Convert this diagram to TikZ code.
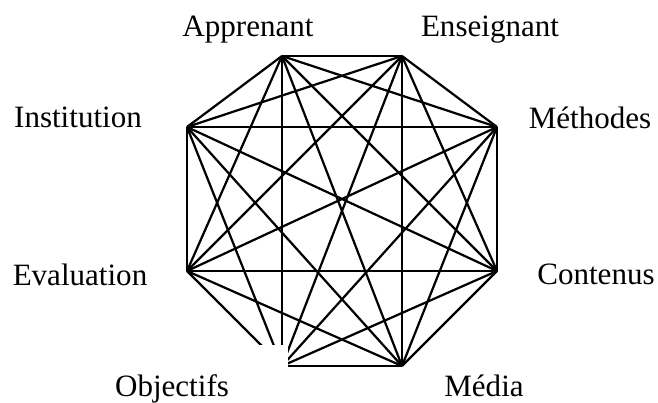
\documentclass[tikz,border=0pt]{standalone}
\usepackage{fontspec}
\setmainfont{Liberation Serif}
\begin{document}
\begin{tikzpicture}[x=0.03cm, y=-0.03cm, line width=1.9pt,
  lbl/.style={anchor=base, inner sep=0pt, font=\fontsize{26.5}{30}\selectfont}]

\useasboundingbox (0,0) rectangle (658,403);

% corners of the octagon
\coordinate (app) at (282,56);
\coordinate (ens) at (402,56);
\coordinate (met) at (497,127);
\coordinate (con) at (497,271);
\coordinate (med) at (402,366);
\coordinate (obj) at (282,366);
\coordinate (eva) at (187,271);
\coordinate (ins) at (187,127);

% every pair joined
\foreach \a [count=\i] in {app,ens,met,con,med,obj,eva,ins}
  \foreach \b [count=\j] in {app,ens,met,con,med,obj,eva,ins}
    { \ifnum\i<\j \draw (\a) -- (\b); \fi }

% gap at the lower left corner
\fill[white] (236,345) rectangle (288,373);

% labels
\node[lbl] (lapp) at (248,37)  {Apprenant};
\node[lbl] (lens) at (490,37)  {Enseignant};
\node[lbl] (lins) at (78,128)  {Institution};
\node[lbl] (lmet) at (590,129) {Méthodes};
\node[lbl] (leva) at (80,286)  {Evaluation};
\node[lbl] (lcon) at (596,285) {Contenus};
\node[lbl] (lobj) at (172,397) {Objectifs};
\node[lbl] (lmed) at (484,397) {Média};

\end{tikzpicture}
\end{document}
